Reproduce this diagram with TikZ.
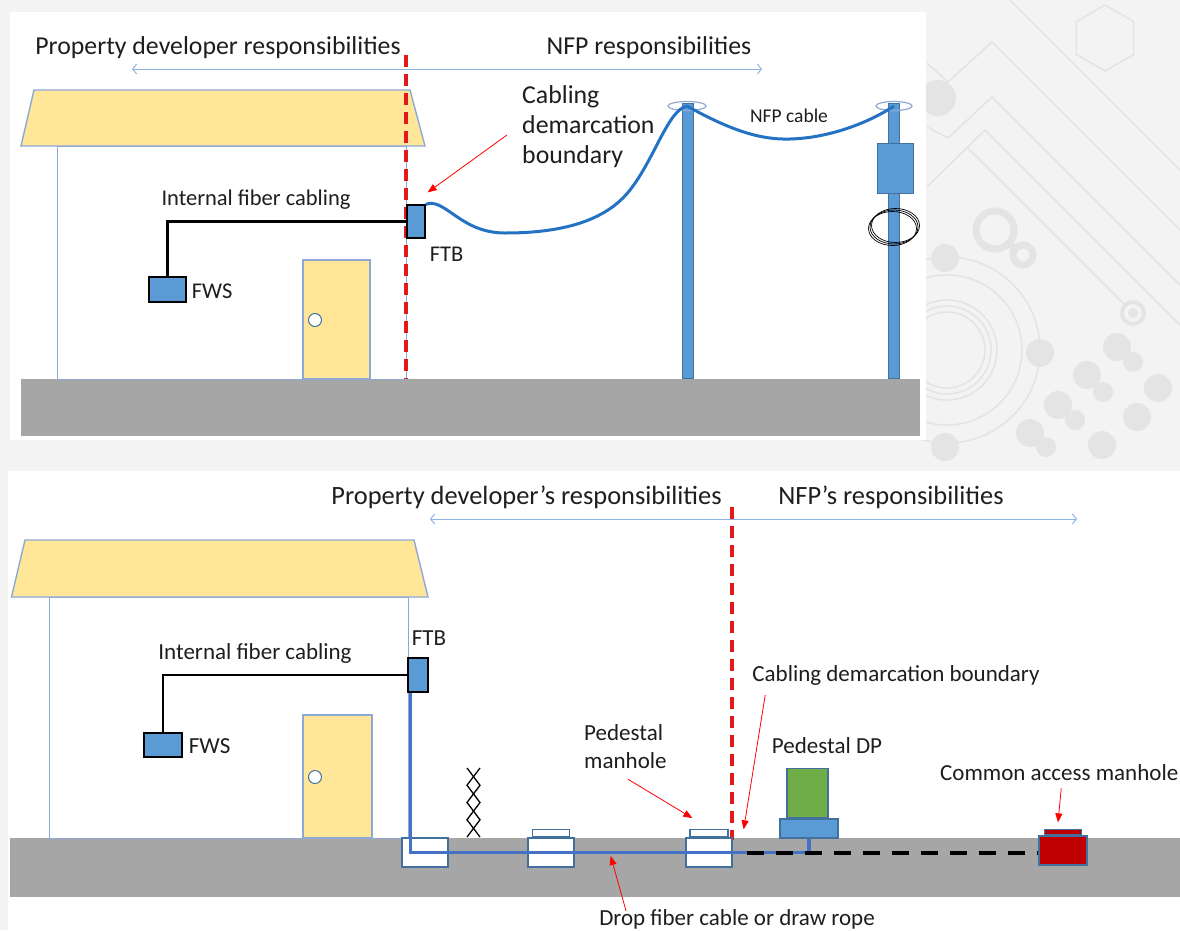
\documentclass[tikz,border=0pt]{standalone}
\usepackage{fontspec}
\setmainfont{Carlito}
\usetikzlibrary{arrows.meta, positioning}
\definecolor{roofyellow}{HTML}{FFE699}
\definecolor{wallblue}{HTML}{8EA9D6}
\definecolor{boxblue}{HTML}{5B9BD5}
\definecolor{edgeblue}{HTML}{41719C}
\definecolor{cableblue}{HTML}{2472C4}
\definecolor{dropblue}{HTML}{4472C4}
\definecolor{groundgray}{HTML}{A6A6A6}
\definecolor{demarcred}{HTML}{E41A1A}
\definecolor{padgreen}{HTML}{70AD47}
\definecolor{holered}{HTML}{C00000}
\definecolor{arrowblue}{HTML}{8DB4E2}
\definecolor{backgray}{HTML}{F3F3F3}
\definecolor{circuitgray}{HTML}{E4E4E4}
\definecolor{inkblack}{HTML}{1E1E1E}

\begin{document}
\begin{tikzpicture}[x=1pt, y=-1pt,
  every node/.style={inner sep=0pt, text=inkblack},
  unitbox/.style={rectangle, draw=black, line width=1.3pt, fill=boxblue},
  polebox/.style={rectangle, draw=edgeblue, line width=0.6pt, fill=boxblue},
  pitbox/.style={rectangle, draw=edgeblue, line width=1.3pt, fill=white},
  demarcation/.style={draw=demarcred, line width=3.8pt, dash pattern=on 12pt off 7pt},
  spanarrow/.style={draw=arrowblue, line width=1pt, arrows={Straight Barb[length=4pt,width=10pt]-Straight Barb[length=4pt,width=10pt]}},
  redpointer/.style={draw=red, line width=0.8pt, -{Triangle[length=9pt,width=7pt]}},
  fibre/.style={draw=black, line width=2.6pt},
  cable/.style={draw=cableblue, line width=3pt},
  dropcable/.style={draw=dropblue, line width=3.6pt},
  conduit/.style={draw=black, line width=4pt, dash pattern=on 17pt off 12pt},
  headtext/.style={font=\fontsize{25.8}{30}\selectfont},
  headtext2/.style={font=\fontsize{26.4}{30}\selectfont},
  bodytext/.style={font=\fontsize{22.5}{27}\selectfont},
  bodytext2/.style={font=\fontsize{23}{28}\selectfont},
  smalltext/.style={font=\fontsize{19.5}{23}\selectfont}
]
\useasboundingbox (0,0) rectangle (1180,930);
\fill[backgray] (0,0) rectangle (1180,930);

% circuit pattern behind the panels
\begin{scope}[draw=circuitgray, line width=1.6pt]
  \draw (927,63) -- (948,82) -- (992,42) -- (1180,230);
  \draw (927,127) -- (948,138) -- (992,97) -- (1180,285);
  \draw (927,187) -- (985,130) -- (1180,325);
  \draw (968,148) -- (1124,304);
  \draw (1010,0) -- (1180,170);
  \draw (1133.6,21.5) -- (1105,5) -- (1076.4,21.5) -- (1076.4,54.5) -- (1105,71) -- (1133.6,54.5) -- cycle;
  \draw (947,350) circle (93pt) (947,350) circle (75pt) (947,350) circle (50pt) (947,350) circle (44pt) (947,350) circle (38pt);
  \draw[line width=4pt] (1133,313) circle (11pt);
  \draw[line width=7pt] (995,230) circle (19pt) (1023,255) circle (10pt);
  \draw[line width=7pt] (1008,243) -- (1015,249);
\end{scope}
\fill[circuitgray] (938,98) circle (18pt) (945,258) circle (14pt) (1040,353) circle (14pt)
  (1158,388) circle (14pt) (1137,417) circle (14pt) (1102,445) circle (14pt) (945,447) circle (14pt)
  (1133,313) circle (5pt)
  (1117,347) circle (14pt) (1133,362) circle (10pt) (1087,375) circle (14pt) (1103,392) circle (10pt)
  (1058,405) circle (14pt) (1075,420) circle (10pt) (1030,433) circle (14pt) (1046,447) circle (10pt);

% ---------- Aerial drop ----------
\fill[white] (10,12) rectangle (926,440);
\fill[groundgray] (21,379) rectangle (920,436);

% House
\draw[wallblue, line width=1pt, fill=white] (57,146) rectangle (406,379);
\draw[wallblue, line width=1.4pt, fill=roofyellow] (34,90) -- (410,90) -- (425,146) -- (21,146) -- cycle;
\draw[wallblue, line width=1.2pt, fill=roofyellow] (303,260) rectangle (370,379);
\draw[edgeblue, line width=1pt, fill=white] (315,320) circle (6.5pt);

% Responsibility split
\draw[demarcation] (406,55) -- (406,379);
\coordinate (devend1) at (132,69);
\coordinate (nfpend1) at (762,69);
\draw[spanarrow] (devend1) -- (nfpend1);
\node[headtext] (devhead1) at (218,48) {Property developer responsibilities};
\node[headtext] (nfphead1) at (649,48) {NFP responsibilities};

% Indoor boxes
\node[unitbox, minimum width=37pt, minimum height=25pt] (fws1) at (167.5,289.5) {};
\node[unitbox, minimum width=18pt, minimum height=33pt] (ftb1) at (416,221.5) {};
\draw[fibre] (fws1.north) |- (ftb1.west);
\node[bodytext, right=5pt of fws1, yshift=-2pt] (fwslabel1) {FWS};
\node[bodytext, below right=8pt and 4pt of ftb1.south east] (ftblabel1) {FTB};
\node[bodytext] (intlabel1) at (256,200) {Internal fiber cabling};

% Poles
\node[polebox, minimum width=11pt, minimum height=275pt] (pole1) at (687.5,241) {};
\node[polebox, minimum width=11pt, minimum height=275pt] (pole2) at (894,241) {};
\node[polebox, minimum width=36pt, minimum height=50pt] (closure) at (895,168) {};
\coordinate (pole1top) at (687,106);
\coordinate (pole2top) at (894,106);
\draw[wallblue, line width=1.2pt] (pole1top) ellipse [x radius=19pt, y radius=4.5pt];
\draw[wallblue, line width=1.2pt] (pole2top) ellipse [x radius=18pt, y radius=4.5pt];
\foreach \dx in {-1.5,0,1.5}
  \draw[black, line width=0.7pt] (894+\dx,227-\dx) ellipse [x radius=24pt, y radius=17pt];

% Aerial cables
\draw[cable] (ftb1.north east) .. controls (445,197) and (460,233) .. (505,233)
  .. controls (560,233) and (605,222) .. (630,190) .. controls (655,158) and (668,110) .. (pole1top);
\draw[cable] (pole1top) .. controls (730,130) and (760,140) .. (790,139)
  .. controls (830,138) and (870,122) .. (pole2top);
\node[smalltext] (nfpcable) at (789,116) {NFP cable};

\node[headtext, align=left, anchor=west] (demarc1) at (522,127) {Cabling\\demarcation\\boundary};
\draw[redpointer] ([xshift=-15pt,yshift=-8pt]demarc1.west) -- ([xshift=2pt,yshift=12pt]ftb1.north east);

% ---------- Underground lead-in ----------
\fill[white] (8,471) rectangle (1180,930);
\fill[groundgray] (10,838) rectangle (1180,897);

% House
\draw[wallblue, line width=1pt, fill=white] (49,597) rectangle (408,838);
\draw[wallblue, line width=1.4pt, fill=roofyellow] (25,540) -- (414,540) -- (428,597) -- (11.5,597) -- cycle;
\draw[wallblue, line width=1.2pt, fill=roofyellow] (303,715) rectangle (372,838);
\draw[edgeblue, line width=1pt, fill=white] (315,777) circle (6.5pt);

% Responsibility split
\draw[demarcation] (732,507) -- (732,840);
\coordinate (devend2) at (430,519);
\coordinate (nfpend2) at (1077,519);
\draw[spanarrow] (devend2) -- (nfpend2);
\node[headtext2] (devhead2) at (526.5,497) {Property developer's responsibilities};
\node[headtext2] (nfphead2) at (891,497) {NFP's responsibilities};

% Indoor boxes
\node[unitbox, minimum width=38pt, minimum height=24pt] (fws2) at (163,745) {};
\node[unitbox, minimum width=20pt, minimum height=34pt] (ftb2) at (418,675) {};
\draw[fibre] (fws2.north) |- (ftb2.west);
\node[bodytext2, right=6pt of fws2, yshift=-1pt] (fwslabel2) {FWS};
\node[bodytext2, above=12pt of ftb2, xshift=11pt] (ftblabel2) {FTB};
\node[bodytext2] (intlabel2) at (255,653) {Internal fiber cabling};

% Fence
\draw[black, line width=1.3pt] (467,768) -- (480,785.25) -- (467,802.5) -- (480,819.75) -- (467,837);
\draw[black, line width=1.3pt] (480,768) -- (467,785.25) -- (480,802.5) -- (467,819.75) -- (480,837);

% Manholes and pedestal
\node[pitbox, minimum width=46pt, minimum height=29pt] (hole0) at (425,852.5) {};
\node[pitbox, minimum width=46pt, minimum height=29pt] (hole1) at (551,852.5) {};
\node[pitbox, minimum width=37pt, minimum height=7pt, above=0pt of hole1] (lid1) {};
\node[pitbox, minimum width=46pt, minimum height=29pt] (hole2) at (709,852.5) {};
\node[pitbox, minimum width=38pt, minimum height=7pt, above=0pt of hole2] (lid2) {};
\node[polebox, line width=1.3pt, minimum width=58pt, minimum height=19pt] (dpbase) at (809,828.5) {};
\node[rectangle, draw=edgeblue, line width=1.3pt, fill=padgreen, minimum width=41pt, minimum height=49pt,
  above=0pt of dpbase, xshift=-1.5pt] (dpcab) {};
\node[rectangle, draw=edgeblue, line width=1.3pt, fill=holered, minimum width=48pt, minimum height=29pt] (cahole) at (1063,850.5) {};
\node[rectangle, draw=edgeblue, line width=1pt, fill=holered, minimum width=37pt, minimum height=5pt, above=0pt of cahole] (calid) {};

% Drop cable and conduit
\draw[dropcable] ([xshift=3pt]ftb2.south west) -- ++(0,160) -| (dpbase.south);
\draw[conduit] ([xshift=14pt]hole2.east) -- (hole2.east -| cahole.west);

% Labels
\node[bodytext2] (demarc2) at (896,675) {Cabling demarcation boundary};
\draw[redpointer] ([xshift=13pt,yshift=-10pt]demarc2.south west) -- ([xshift=11pt,yshift=8pt]hole2.north east);
\node[bodytext2, align=left, anchor=west] (pedhole) at (584,747) {Pedestal\\manhole};
\draw[redpointer] ([xshift=44pt,yshift=-10pt]pedhole.south west) -- ([xshift=3pt,yshift=11pt]lid2.north west);
\node[bodytext2] (dplabel) at (827,746) {Pedestal DP};
\node[bodytext2, anchor=west] (calabel) at (940,773) {Common access manhole};
\draw[redpointer] ([xshift=2pt,yshift=-7pt]calabel.south) -- ([xshift=-5pt,yshift=7pt]calid.north);
\node[bodytext2] (droplabel) at (737,919) {Drop fiber cable or draw rope};
\draw[redpointer] ([xshift=27pt,yshift=-2pt]droplabel.north west) -- ([xshift=36pt,yshift=-3.5pt]hole1.east);
\end{tikzpicture}
\end{document}
